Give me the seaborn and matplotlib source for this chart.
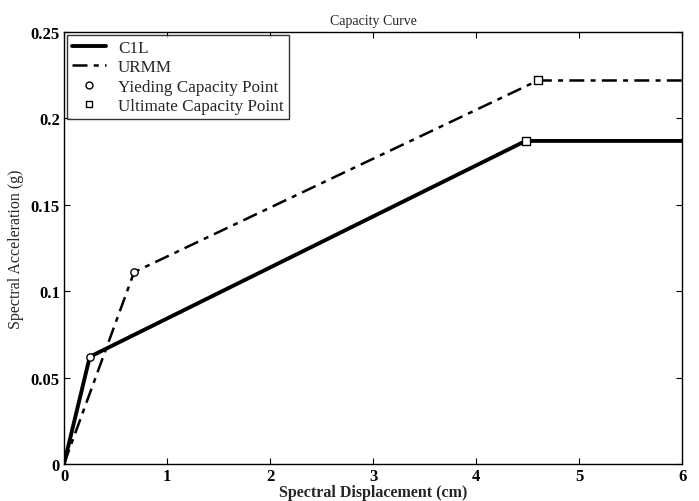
import matplotlib
matplotlib.use("Agg")
import matplotlib.pyplot as plt
import seaborn as sns
import pandas as pd
from matplotlib.lines import Line2D

# Capacity curve vertices (spectral displacement in cm, spectral acceleration in g)
c1l_sd = [0.0, 0.25, 4.48, 6.0]
c1l_sa = [0.0, 0.062, 0.187, 0.187]
urmm_sd = [0.0, 0.68, 4.60, 6.0]
urmm_sa = [0.0, 0.111, 0.222, 0.222]

# Yield and ultimate capacity points for each building type
yield_sd = [0.25, 0.68]
yield_sa = [0.062, 0.111]
ult_sd = [4.48, 4.60]
ult_sa = [0.187, 0.222]

x_ticks = [0, 1, 2, 3, 4, 5, 6]
y_ticks = [0, 0.05, 0.1, 0.15, 0.2, 0.25]
y_tick_labels = ["0", "0.05", "0.1", "0.15", "0.2", "0.25"]

sns.set_theme(style="ticks")
plt.rcParams["font.family"] = ["Liberation Serif", "DejaVu Serif"]

fig = plt.figure(figsize=(6.99, 5.02), dpi=100)
ax = fig.add_axes([0.0916, 0.074, 0.8844, 0.86])

DASHDOT = (0, (6, 2.5, 2, 2.5))

c1l = pd.DataFrame({"sd": c1l_sd, "sa": c1l_sa})
urmm = pd.DataFrame({"sd": urmm_sd, "sa": urmm_sa})
yld = pd.DataFrame({"sd": yield_sd, "sa": yield_sa})
ult = pd.DataFrame({"sd": ult_sd, "sa": ult_sa})

sns.lineplot(data=c1l, x="sd", y="sa", ax=ax, color="black", lw=2.8,
             sort=False, estimator=None)
sns.lineplot(data=urmm, x="sd", y="sa", ax=ax, color="black", lw=1.8,
             sort=False, estimator=None, linestyle=DASHDOT)
sns.scatterplot(data=yld, x="sd", y="sa", ax=ax, marker="o", s=28,
                facecolor="white", edgecolor="black", linewidth=1.0, zorder=5)
sns.scatterplot(data=ult, x="sd", y="sa", ax=ax, marker="s", s=26,
                facecolor="white", edgecolor="black", linewidth=1.0, zorder=5)

ax.set_xlim(0, 6)
ax.set_ylim(0, 0.25)
ax.set_xticks(x_ticks)
ax.set_xticklabels([str(t) for t in x_ticks], fontsize=12, fontweight="bold")
ax.set_yticks(y_ticks)
ax.set_yticklabels(y_tick_labels, fontsize=12, fontweight="bold")
ax.tick_params(direction="in", length=4, width=0.8, top=True, right=True,
               colors="black", pad=3)
for sp in ax.spines.values():
    sp.set_color("black")
    sp.set_linewidth(1.0)

ax.set_title("Capacity Curve", fontsize=10, pad=6)
ax.set_xlabel("Spectral Displacement (cm)", fontsize=11.5, fontweight="bold",
              labelpad=0)
ax.set_ylabel("Spectral Acceleration (g)", fontsize=11.5, labelpad=5)

handles = [
    Line2D([], [], color="black", lw=2.8, label="C1L"),
    Line2D([], [], color="black", lw=1.8, linestyle=DASHDOT, label="URMM"),
    Line2D([], [], color="black", lw=0, marker="o", markersize=5,
           markerfacecolor="white", markeredgecolor="black",
           label="Yieding Capacity Point"),
    Line2D([], [], color="black", lw=0, marker="s", markersize=5,
           markerfacecolor="white", markeredgecolor="black",
           label="Ultimate Capacity Point"),
]
leg = ax.legend(handles=handles, loc="upper left", fontsize=12.3,
                frameon=True, fancybox=False, borderaxespad=0.15,
                handlelength=2.0, handletextpad=0.7, labelspacing=0.2,
                borderpad=0.3)
leg.get_frame().set_edgecolor("black")
leg.get_frame().set_linewidth(1.0)

fig.savefig("out.png", dpi=100)
